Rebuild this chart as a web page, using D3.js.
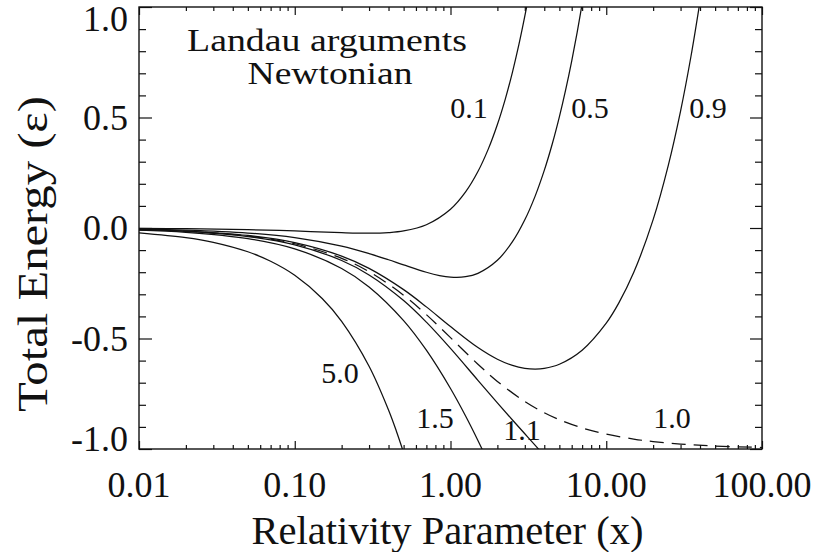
<!DOCTYPE html>
<html>
<head>
<meta charset="utf-8">
<script src="https://cdn.jsdelivr.net/npm/d3@7"></script>
<style>
  html, body { margin: 0; padding: 0; background: #fff; }
  text { font-family: "Liberation Serif", "DejaVu Serif", serif; fill: #111; }
</style>
</head>
<body>
<svg id="chart" width="817" height="552"></svg>
<script>
// ---------- data ----------
const xTickValues = [0.01, 0.1, 1, 10, 100];
const xTickLabels = ["0.01", "0.10", "1.00", "10.00", "100.00"];
const yTickValues = [-1, -0.5, 0, 0.5, 1];
const yTickLabels = ["-1.0", "-0.5", "0.0", "0.5", "1.0"];

const xTitle = "Relativity Parameter (x)";
const yTitle = "Total Energy (\u03b5)";
const noteLines = ["Landau arguments", "Newtonian"];

const seriesNames = ["0.1", "0.5", "0.9", "1.0", "1.1", "1.5", "5.0"];

const x01 = [0.01,0.02,0.05,0.1,0.2,0.3,0.4,0.5,0.7,1,1.25,1.5,1.75,2,2.25,2.5,2.75,3,3.2];
const e01 = [-0.0016,-0.0031,-0.0073,-0.0132,-0.0210,-0.0235,-0.0209,-0.0134,0.0148,0.0849,0.1634,0.2555,0.3580,0.4683,0.5846,0.7057,0.8305,0.9582,1.0621];

const x05 = [0.01,0.02,0.05,0.1,0.2,0.3,0.4,0.5,0.7,0.85,1,1.25,1.5,2,2.5,3,3.5,4,4.5,5,5.5,6,6.5,7];
const e05 = [-0.0046,-0.0092,-0.0227,-0.0439,-0.0824,-0.1156,-0.1437,-0.1669,-0.2002,-0.2150,-0.2222,-0.2205,-0.2051,-0.1460,-0.0621,0.0369,0.1454,0.2605,0.3801,0.5030,0.6283,0.7556,0.8842,1.0141];

const x09 = [0.01,0.02,0.05,0.1,0.2,0.3,0.5,0.7,1,1.5,2,2.5,3,3.5,4,5,7,10,12,15,20,25,30,35,40];
const e09 = [-0.0069,-0.0137,-0.0338,-0.0663,-0.1272,-0.1828,-0.2789,-0.3569,-0.4460,-0.5409,-0.5937,-0.6217,-0.6347,-0.6381,-0.6350,-0.6163,-0.5529,-0.4306,-0.3413,-0.2017,0.0380,0.2825,0.5293,0.7771,1.0257];

const x10 = [0.01,0.02,0.05,0.1,0.2,0.3,0.5,0.7,1,1.5,2,3,4,5,7,10,15,20,30,50,100];
const e10 = [-0.0074,-0.0147,-0.0364,-0.0713,-0.1372,-0.1978,-0.3040,-0.3920,-0.4962,-0.6162,-0.6941,-0.7853,-0.8359,-0.8674,-0.9045,-0.9328,-0.9550,-0.9664,-0.9774,-0.9865,-0.9933];

const x11 = [0.01,0.02,0.05,0.1,0.2,0.3,0.5,0.7,1,1.5,2,2.5,3,3.5,3.7];
const e11 = [-0.0079,-0.0157,-0.0388,-0.0762,-0.1470,-0.2124,-0.3283,-0.4261,-0.5448,-0.6891,-0.7913,-0.8688,-0.9311,-0.9839,-1.0030];

const x15 = [0.01,0.02,0.05,0.1,0.2,0.3,0.5,0.7,1,1.25,1.5,1.6];
const e15 = [-0.0097,-0.0193,-0.0479,-0.0943,-0.1832,-0.2668,-0.4190,-0.5530,-0.7262,-0.8505,-0.9611,-1.0024];

const x50 = [0.01,0.02,0.03,0.05,0.07,0.1,0.15,0.2,0.3,0.4,0.45,0.5];
const e50 = [-0.0216,-0.0432,-0.0647,-0.1076,-0.1503,-0.2138,-0.3187,-0.4223,-0.6254,-0.8234,-0.9206,-1.0166];

// ---------- layout ----------
const W = 817, H = 552;
const L = 139, R = 762, T = 7, B = 449;

const svg = d3.select("#chart");
svg.append("rect").attr("width", W).attr("height", H).attr("fill", "#fff");

const x = d3.scaleLog().domain([0.01, 100]).range([L, R]);
const y = d3.scaleLinear().domain([-1, 1]).range([B, T]);

const seriesX = [x01, x05, x09, x10, x11, x15, x50];
const seriesE = [e01, e05, e09, e10, e11, e15, e50];
const dashed = { "1.0": "14,8" };

// clip
svg.append("defs").append("clipPath").attr("id", "plot")
  .append("rect").attr("x", L).attr("y", T).attr("width", R - L).attr("height", B - T);

const line = d3.line().x(d => x(d[0])).y(d => y(d[1])).curve(d3.curveCatmullRom.alpha(0.5));
const gCurves = svg.append("g").attr("clip-path", "url(#plot)");
seriesNames.forEach((name, i) => {
  const pts = seriesX[i].map((v, j) => [v, seriesE[i][j]]);
  gCurves.append("path")
    .attr("d", line(pts))
    .attr("fill", "none")
    .attr("stroke", "#111")
    .attr("stroke-width", 1.25)
    .attr("stroke-dasharray", dashed[name] || null);
});

// minor tick values
const xMinor = [];
[0.01, 0.1, 1, 10].forEach(d => { for (let k = 2; k <= 9; k++) xMinor.push(d * k); });
const yMinor = d3.range(-10, 11).map(k => k / 10).filter(v => Math.abs(v * 2 - Math.round(v * 2)) > 1e-9);

function axisStyle(g) {
  g.select(".domain").remove();
  g.selectAll(".tick line").attr("stroke", "#111").attr("stroke-width", 1.2);
  g.selectAll(".tick text").remove();
}
// bottom
svg.append("g").attr("transform", `translate(0,${B})`)
  .call(d3.axisBottom(x).tickValues(xTickValues).tickSize(-8).tickFormat("")).call(axisStyle);
svg.append("g").attr("transform", `translate(0,${B})`)
  .call(d3.axisBottom(x).tickValues(xMinor).tickSize(-4).tickFormat("")).call(axisStyle);
// top
svg.append("g").attr("transform", `translate(0,${T})`)
  .call(d3.axisTop(x).tickValues(xTickValues).tickSize(-8).tickFormat("")).call(axisStyle);
svg.append("g").attr("transform", `translate(0,${T})`)
  .call(d3.axisTop(x).tickValues(xMinor).tickSize(-4).tickFormat("")).call(axisStyle);
// left
svg.append("g").attr("transform", `translate(${L},0)`)
  .call(d3.axisLeft(y).tickValues(yTickValues).tickSize(-13).tickFormat("")).call(axisStyle);
svg.append("g").attr("transform", `translate(${L},0)`)
  .call(d3.axisLeft(y).tickValues(yMinor).tickSize(-7).tickFormat("")).call(axisStyle);
// right
svg.append("g").attr("transform", `translate(${R},0)`)
  .call(d3.axisRight(y).tickValues(yTickValues).tickSize(-12).tickFormat("")).call(axisStyle);
svg.append("g").attr("transform", `translate(${R},0)`)
  .call(d3.axisRight(y).tickValues(yMinor).tickSize(-7).tickFormat("")).call(axisStyle);

// frame
svg.append("rect").attr("x", L).attr("y", T).attr("width", R - L).attr("height", B - T)
  .attr("fill", "none").attr("stroke", "#111").attr("stroke-width", 1.4);

// x tick labels
svg.append("g").selectAll("text").data(xTickValues).join("text")
  .attr("x", d => x(d)).attr("y", 497)
  .attr("text-anchor", "middle").attr("font-size", 36)
  .text((d, i) => xTickLabels[i]);

// y tick labels (end ones nudged inside the frame, as in the picture)
const yNudge = v => (v === 1 ? 12 : v === -1 ? -10 : 0);
svg.append("g").selectAll("text").data(yTickValues).join("text")
  .attr("x", 128).attr("y", d => y(d) + yNudge(d) + 12)
  .attr("text-anchor", "end").attr("font-size", 36)
  .text((d, i) => yTickLabels[i]);

// axis titles
svg.append("text").attr("x", (L + R) / 2 - 3).attr("y", 544)
  .attr("text-anchor", "middle").attr("font-size", 40)
  .attr("textLength", 392).attr("lengthAdjust", "spacingAndGlyphs")
  .text(xTitle);
svg.append("text").attr("transform", "translate(47,254) rotate(-90)")
  .attr("text-anchor", "middle").attr("font-size", 42)
  .attr("textLength", 316).attr("lengthAdjust", "spacingAndGlyphs")
  .text(yTitle);

// note
svg.append("text").attr("x", 327).attr("y", 51).attr("text-anchor", "middle")
  .attr("font-size", 32).attr("textLength", 280).attr("lengthAdjust", "spacingAndGlyphs")
  .text(noteLines[0]);
svg.append("text").attr("x", 330).attr("y", 84).attr("text-anchor", "middle")
  .attr("font-size", 32).attr("textLength", 165).attr("lengthAdjust", "spacingAndGlyphs")
  .text(noteLines[1]);

// curve labels (annotation positions in pixels)
const labelPos = { "0.1": [469, 118], "0.5": [590, 118], "0.9": [708, 118],
  "5.0": [340, 383], "1.5": [435, 428], "1.1": [522, 440], "1.0": [672, 428] };
svg.append("g").selectAll("text").data(seriesNames).join("text")
  .attr("x", d => labelPos[d][0]).attr("y", d => labelPos[d][1])
  .attr("text-anchor", "middle").attr("font-size", 30)
  .text(d => d);
</script>
</body>
</html>
